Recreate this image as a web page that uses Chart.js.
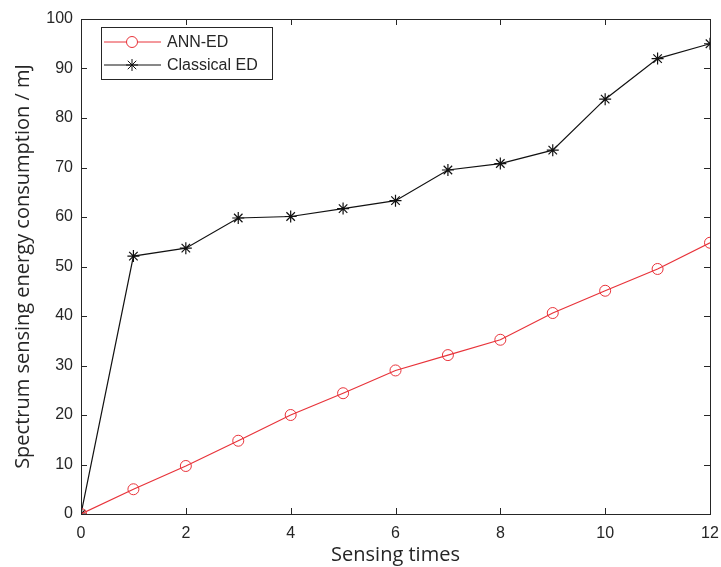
<!DOCTYPE html>
<html>
<head>
<meta charset="utf-8">
<script src="https://cdn.jsdelivr.net/npm/chart.js@4.4.0/dist/chart.umd.min.js"></script>
<style>
html,body{margin:0;padding:0;background:#fff;}
#wrap{width:721px;height:567px;position:relative;}
</style>
</head>
<body>
<div id="wrap"><canvas id="c" width="721" height="567"></canvas></div>
<script>
const sensingTimes = [0,1,2,3,4,5,6,7,8,9,10,11,12];
const annED = [0,5.0,9.7,14.8,20.0,24.4,29.0,32.1,35.2,40.6,45.1,49.5,54.8];
const classicalED = [0,52.1,53.7,59.8,60.1,61.7,63.3,69.5,70.8,73.5,83.8,92.0,95.0];
const xTicks = [0,2,4,6,8,10,12];
const yTicks = [0,10,20,30,40,50,60,70,80,90,100];

const axisColor = '#262626';
const fontFamily = 'Liberation Sans, Arial, sans-serif';
const titleFamily = 'Open Sans, Noto Sans, sans-serif';

const frameTicks = {
  id:'frameTicks',
  afterDraw(chart){
    const ctx = chart.ctx, a = chart.chartArea;
    const xs = chart.scales.x, ys = chart.scales.y;
    ctx.save();
    ctx.strokeStyle = axisColor;
    ctx.lineWidth = 1;
    ctx.beginPath();
    ctx.rect(Math.round(a.left)+0.5, Math.round(a.top)+0.5, Math.round(a.right-a.left), Math.round(a.bottom-a.top));
    ctx.stroke();
    const L = 6;
    ctx.beginPath();
    xTicks.forEach(v=>{
      const px = Math.round(xs.getPixelForValue(v))+0.5;
      ctx.moveTo(px,a.bottom); ctx.lineTo(px,a.bottom-L);
      ctx.moveTo(px,a.top); ctx.lineTo(px,a.top+L);
    });
    yTicks.forEach(v=>{
      const py = Math.round(ys.getPixelForValue(v))+0.5;
      ctx.moveTo(a.left,py); ctx.lineTo(a.left+L,py);
      ctx.moveTo(a.right,py); ctx.lineTo(a.right-L,py);
    });
    ctx.stroke();
    // legend box
    const bx = 101, by = 27, bw = 171, bh = 52;
    ctx.fillStyle = '#fff';
    ctx.fillRect(bx,by,bw,bh);
    ctx.strokeStyle = axisColor;
    ctx.strokeRect(bx+0.5,by+0.5,bw,bh);
    ctx.font = '16px ' + fontFamily;
    ctx.textBaseline = 'middle';
    chart.data.datasets.forEach((ds,i)=>{
      const cy = by + 15 + i*23;
      ctx.strokeStyle = ds.borderColor;
      ctx.lineWidth = 1;
      ctx.beginPath(); ctx.moveTo(104,cy); ctx.lineTo(161,cy); ctx.stroke();
      Chart.helpers.drawPoint(ctx,{pointStyle:ds.pointStyle,radius:ds.pointRadius,borderWidth:1,rotation:0},132,cy);
      ctx.fillStyle = axisColor;
      ctx.fillText(ds.label,167,cy+1);
    });
    ctx.restore();
  }
};

new Chart(document.getElementById('c'),{
  type:'line',
  data:{
    labels: sensingTimes,
    datasets:[
      {label:'ANN-ED', data: sensingTimes.map((x,i)=>({x, y: annED[i]})),
       borderColor:'#e8333a', backgroundColor:'rgba(0,0,0,0)', borderWidth:1.2,
       pointStyle:'circle', pointRadius:5.5, pointBorderWidth:1, pointBorderColor:'#e8333a',
       pointBackgroundColor:'rgba(0,0,0,0)', tension:0},
      {label:'Classical ED', data: sensingTimes.map((x,i)=>({x, y: classicalED[i]})),
       borderColor:'#111', backgroundColor:'rgba(0,0,0,0)', borderWidth:1.2,
       pointStyle:'star', pointRadius:6, pointBorderWidth:1.2, pointBorderColor:'#111',
       pointBackgroundColor:'rgba(0,0,0,0)', tension:0}
    ]
  },
  options:{
    responsive:false, animation:false, devicePixelRatio:1,
    layout:{padding:{left:0,top:19,right:11,bottom:0}},
    plugins:{legend:{display:false}, tooltip:{enabled:false}},
    scales:{
      x:{type:'linear', min:0, max:12,
         afterBuildTicks(s){ s.ticks = xTicks.map(v=>({value:v})); },
         afterFit(s){ s.height = 53; s.paddingLeft = 0; s.paddingRight = 0; },
         grid:{display:false, drawTicks:false},
         border:{display:true,color:axisColor},
         ticks:{color:axisColor, font:{size:16,family:fontFamily}, padding:10, maxRotation:0},
         title:{display:true, text:'Sensing times', color:axisColor, font:{size:20,family:titleFamily}, padding:{top:-5,bottom:0}}
      },
      y:{type:'linear', min:0, max:100,
         afterBuildTicks(s){ s.ticks = yTicks.map(v=>({value:v})); },
         afterFit(s){ s.width = 81; s.paddingTop = 0; s.paddingBottom = 0; },
         grid:{display:false, drawTicks:false},
         border:{display:true,color:axisColor},
         ticks:{color:axisColor, font:{size:16,family:fontFamily}, padding:8},
         title:{display:true, text:'Spectrum sensing energy consumption / mJ', color:axisColor, font:{size:20,family:titleFamily}, padding:{top:11,bottom:0}}
      }
    }
  },
  plugins:[frameTicks]
});
</script>
</body>
</html>
